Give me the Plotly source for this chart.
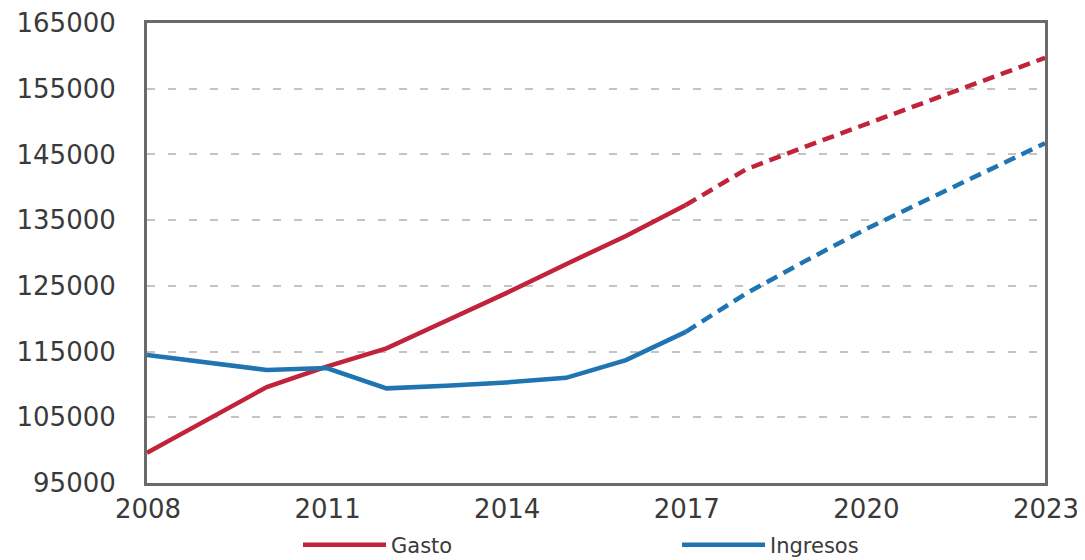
import plotly.graph_objects as go

# ---- data ----
years_hist = [2008, 2009, 2010, 2011, 2012, 2013, 2014, 2015, 2016, 2017]
gasto_hist = [99600, 104600, 109600, 112700, 115500, 119700, 123900, 128300, 132600, 137300]
ingresos_hist = [114500, 113300, 112200, 112500, 109400, 109800, 110300, 111000, 113700, 118000]

years_proj = [2017, 2018, 2019, 2020, 2021, 2022, 2023]
gasto_proj = [137300, 142700, 146200, 149600, 153000, 156400, 159700]
ingresos_proj = [118000, 123800, 128800, 133600, 138000, 142400, 146700]

x_ticks = [2008, 2011, 2014, 2017, 2020, 2023]
y_ticks = [95000, 105000, 115000, 125000, 135000, 145000, 155000, 165000]

RED = "#C1233B"
BLUE = "#1F74B2"
TEXT = "#3a3a3a"

# page body has an 8px default margin; size the figure so it fits the window
W, H = 1077, 552
ML, MR, MT, MB = 139, 40, 15, 77
PW, PH = W - ML - MR, H - MT - MB

fig = go.Figure()
fig.add_trace(go.Scatter(x=years_hist, y=gasto_hist, mode="lines", name="Gasto",
                         line=dict(color=RED, width=4.5)))
fig.add_trace(go.Scatter(x=years_hist, y=ingresos_hist, mode="lines", name="Ingresos",
                         line=dict(color=BLUE, width=4.5)))
fig.add_trace(go.Scatter(x=years_proj, y=gasto_proj, mode="lines", showlegend=False,
                         line=dict(color=RED, width=4.5, dash="12px,7px")))
fig.add_trace(go.Scatter(x=years_proj, y=ingresos_proj, mode="lines", showlegend=False,
                         line=dict(color=BLUE, width=4.5, dash="12px,7px")))

fig.update_layout(
    width=W, height=H,
    margin=dict(l=ML, r=MR, t=MT, b=MB, autoexpand=False),
    paper_bgcolor="white", plot_bgcolor="white",
    font=dict(family="DejaVu Sans", color=TEXT),
    showlegend=True,
    legend=dict(orientation="h", xref="paper", yref="paper",
                x=(290 - ML) / PW, xanchor="left",
                y=(MT + PH - 537) / PH, yanchor="middle",
                font=dict(family="DejaVu Sans", size=21, color=TEXT),
                entrywidth=281, entrywidthmode="pixels", itemwidth=83,
                bgcolor="rgba(0,0,0,0)"),
    xaxis=dict(range=[2008, 2023], tickvals=x_ticks, showgrid=False, zeroline=False,
               showline=True, linecolor="#6a6a6a", linewidth=3, mirror=True, automargin=False,
               ticks="", tickfont=dict(size=26, color=TEXT), ticklabelstandoff=1,
               ticklabelshift=1),
    yaxis=dict(range=[95000, 165000], tickvals=y_ticks, tickformat="d",
               showgrid=True, gridcolor="#c4c4c4", gridwidth=2, griddash="8px,13px",
               zeroline=False, showline=True, linecolor="#6a6a6a", linewidth=3, mirror=True,
               automargin=False,
               ticks="", tickfont=dict(size=26, color=TEXT), ticklabelstandoff=23),
)

fig.write_html("out.html")
